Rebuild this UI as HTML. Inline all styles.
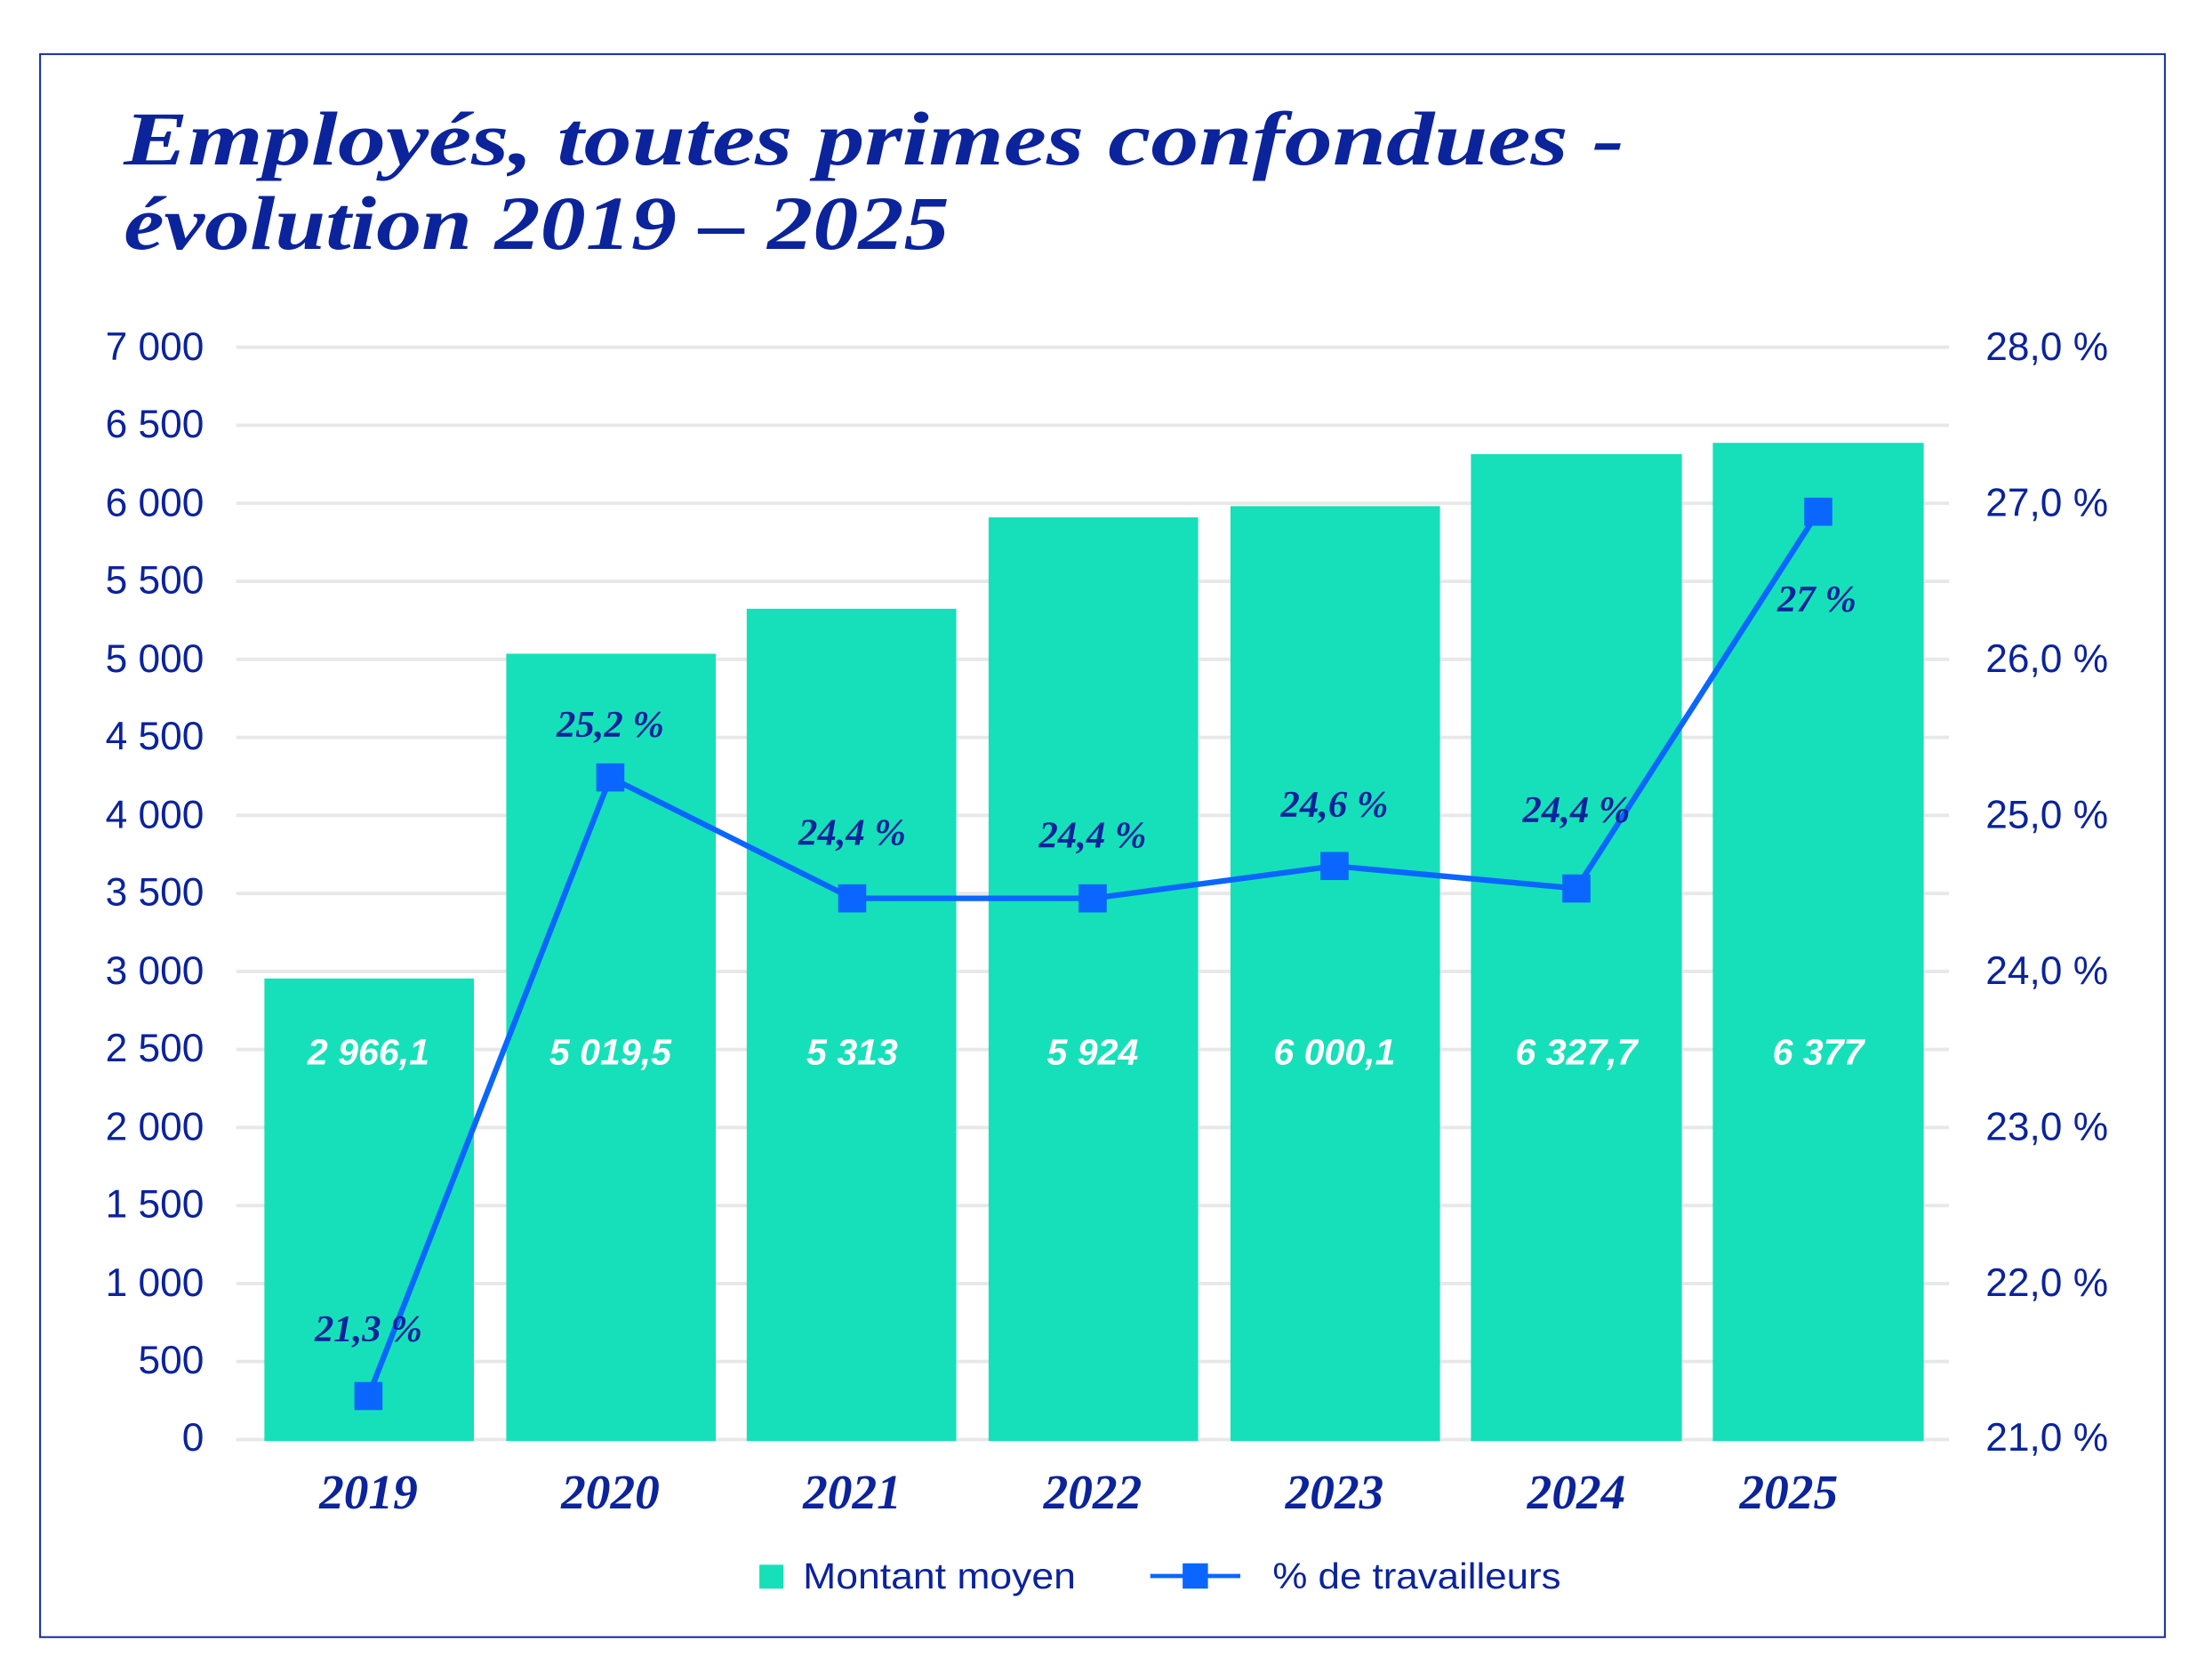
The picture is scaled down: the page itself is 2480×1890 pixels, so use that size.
<!DOCTYPE html>
<html><head><meta charset="utf-8"><style>
html,body{margin:0;padding:0;background:#fff;}
svg{display:block;}
</style></head><body>
<svg width="2480" height="1890" viewBox="0 0 1568 1195" xmlns="http://www.w3.org/2000/svg">
<rect x="28.5" y="38.5" width="1511" height="1126" fill="#fff" stroke="#1a2fa3" stroke-width="1.3"/>
<g font-family="Liberation Serif, serif" font-weight="bold" font-style="italic" fill="#0b239b" font-size="54">
<text x="88" y="117" textLength="1067" lengthAdjust="spacingAndGlyphs">Employés, toutes primes confondues -</text>
<text x="88" y="177" textLength="587" lengthAdjust="spacingAndGlyphs">évolution 2019 – 2025</text>
</g>
<g stroke="#e8e8e8" stroke-width="2.5">
<line x1="168" x2="1386" y1="247" y2="247"/><line x1="168" x2="1386" y1="302.5" y2="302.5"/>
<line x1="168" x2="1386" y1="358" y2="358"/><line x1="168" x2="1386" y1="413.5" y2="413.5"/>
<line x1="168" x2="1386" y1="469" y2="469"/><line x1="168" x2="1386" y1="524.5" y2="524.5"/>
<line x1="168" x2="1386" y1="580" y2="580"/><line x1="168" x2="1386" y1="635.5" y2="635.5"/>
<line x1="168" x2="1386" y1="691" y2="691"/><line x1="168" x2="1386" y1="746.5" y2="746.5"/>
<line x1="168" x2="1386" y1="802" y2="802"/><line x1="168" x2="1386" y1="857.5" y2="857.5"/>
<line x1="168" x2="1386" y1="913" y2="913"/><line x1="168" x2="1386" y1="968.5" y2="968.5"/>
<line x1="168" x2="1386" y1="1024" y2="1024"/>
</g>
<g font-family="Liberation Sans, sans-serif" fill="#0b239b" font-size="28" text-anchor="end">
<text x="145" y="256">7 000</text><text x="145" y="311">6 500</text><text x="145" y="367">6 000</text>
<text x="145" y="422">5 500</text><text x="145" y="478">5 000</text><text x="145" y="533">4 500</text>
<text x="145" y="589">4 000</text><text x="145" y="644">3 500</text><text x="145" y="700">3 000</text>
<text x="145" y="755">2 500</text><text x="145" y="811">2 000</text><text x="145" y="866">1 500</text>
<text x="145" y="922">1 000</text><text x="145" y="977">500</text><text x="145" y="1032">0</text>
</g>
<g font-family="Liberation Sans, sans-serif" fill="#0b239b" font-size="28">
<text x="1412" y="256">28,0 %</text><text x="1412" y="367">27,0 %</text><text x="1412" y="478">26,0 %</text>
<text x="1412" y="589">25,0 %</text><text x="1412" y="700">24,0 %</text><text x="1412" y="811">23,0 %</text>
<text x="1412" y="922">22,0 %</text><text x="1412" y="1032">21,0 %</text>
</g>
<g fill="#16e0b9">
<rect x="188" y="696" width="149" height="329"/>
<rect x="360" y="465" width="149" height="560"/>
<rect x="531" y="433" width="149" height="592"/>
<rect x="703" y="368" width="149" height="657"/>
<rect x="875" y="360" width="149" height="665"/>
<rect x="1046" y="323" width="150" height="702"/>
<rect x="1218" y="315" width="150" height="710"/>
</g>
<g font-family="Liberation Sans, sans-serif" font-style="italic" font-weight="bold" fill="#fff" font-size="26" text-anchor="middle">
<text x="262" y="757">2 966,1</text><text x="434" y="757">5 019,5</text><text x="606" y="757">5 313</text>
<text x="777" y="757">5 924</text><text x="949" y="757">6 000,1</text><text x="1121" y="757">6 327,7</text>
<text x="1293" y="757">6 377</text>
</g>
<polyline points="262,993 434,553 606,639 777,639 949,616 1121,632 1293,364" fill="none" stroke="#0a66ff" stroke-width="4"/>
<g fill="#0a66ff">
<rect x="252" y="983" width="20" height="20"/><rect x="424" y="543" width="20" height="20"/>
<rect x="596" y="629" width="20" height="20"/><rect x="767" y="629" width="20" height="20"/>
<rect x="939" y="606" width="20" height="20"/><rect x="1111" y="622" width="20" height="20"/>
<rect x="1283" y="354" width="20" height="20"/>
</g>
<g font-family="Liberation Serif, serif" font-style="italic" font-weight="bold" fill="#0b239b" font-size="27" text-anchor="middle">
<text x="262" y="954">21,3 %</text><text x="434" y="524">25,2 %</text><text x="606" y="601">24,4 %</text>
<text x="777" y="603">24,4 %</text><text x="949" y="581">24,6 %</text><text x="1121" y="585">24,4 %</text>
<text x="1292" y="435">27 %</text>
</g>
<g font-family="Liberation Serif, serif" font-style="italic" font-weight="bold" fill="#0b239b" font-size="35" text-anchor="middle">
<text x="262" y="1073">2019</text><text x="434" y="1073">2020</text><text x="606" y="1073">2021</text>
<text x="777" y="1073">2022</text><text x="949" y="1073">2023</text><text x="1121" y="1073">2024</text>
<text x="1272" y="1073">2025</text>
</g>
<rect x="540" y="1113" width="17" height="17" fill="#16e0b9"/>
<text x="571" y="1130" font-family="Liberation Sans, sans-serif" font-size="26" fill="#0b239b" textLength="194" lengthAdjust="spacingAndGlyphs">Montant moyen</text>
<line x1="818" x2="882" y1="1121" y2="1121" stroke="#0a66ff" stroke-width="3"/>
<rect x="841" y="1112" width="18" height="18" fill="#0a66ff"/>
<text x="905" y="1130" font-family="Liberation Sans, sans-serif" font-size="26" fill="#0b239b" textLength="205" lengthAdjust="spacingAndGlyphs">% de travailleurs</text>
</svg>
</body></html>
